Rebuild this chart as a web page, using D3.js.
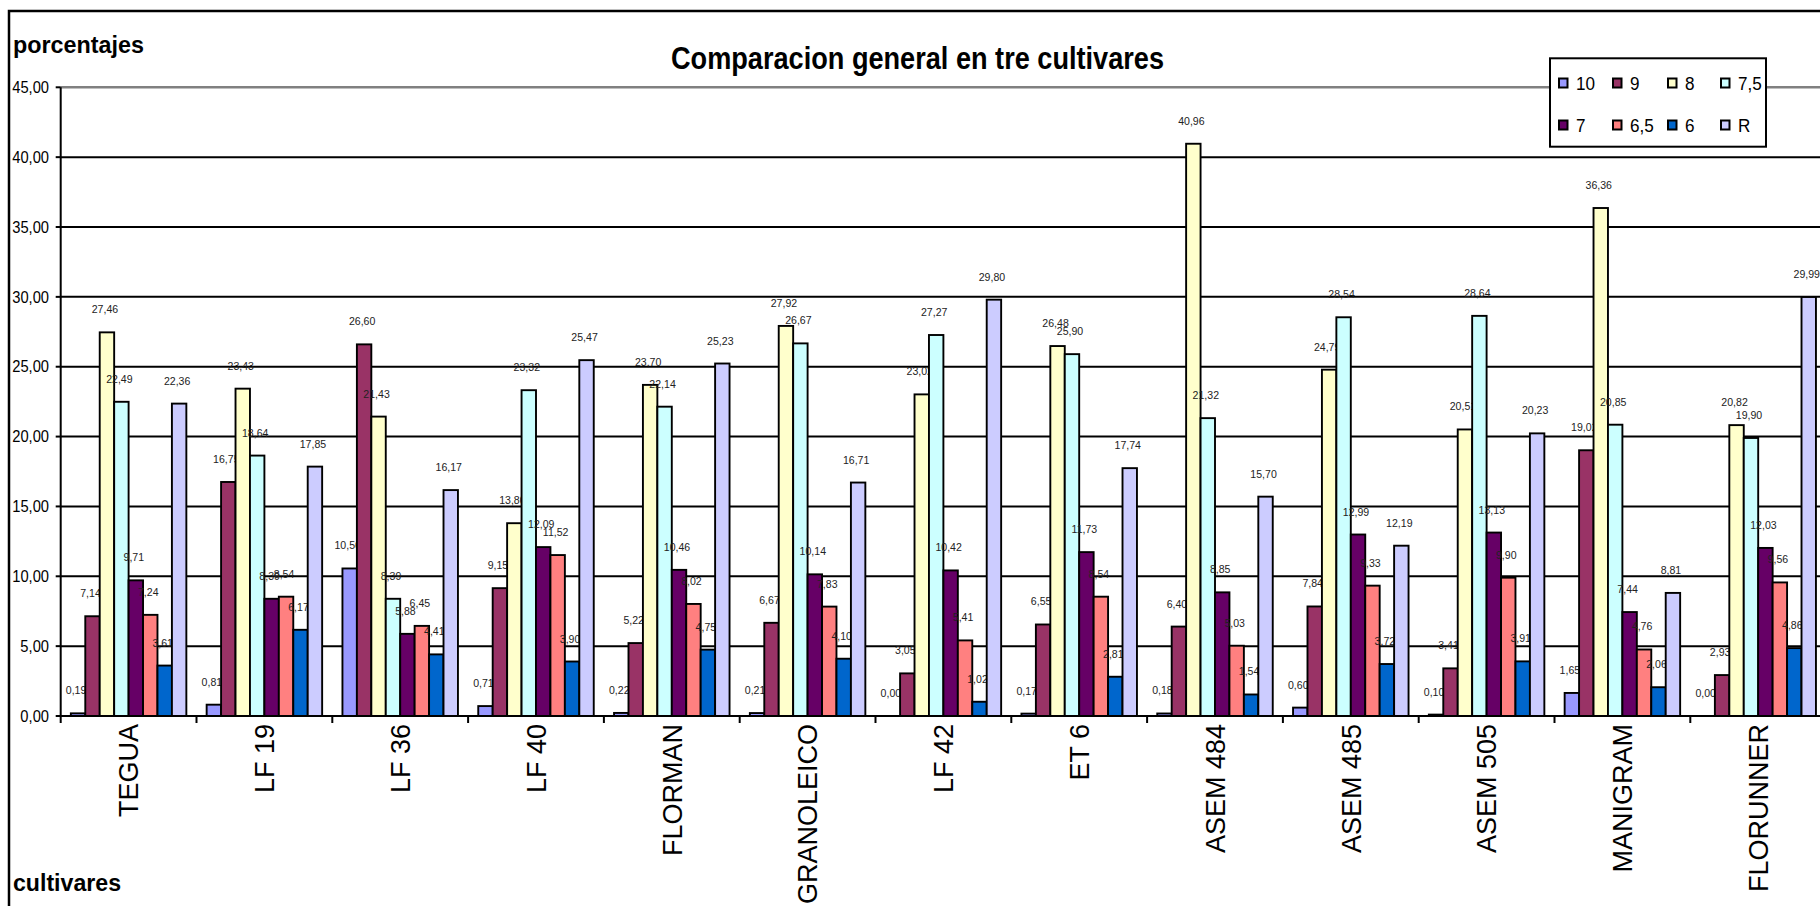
<!DOCTYPE html>
<html>
<head>
<meta charset="utf-8">
<script src="https://cdn.jsdelivr.net/npm/d3@7"></script>
<style>
  html, body { margin: 0; padding: 0; background: #fff; overflow: hidden; }
  svg { display: block; font-family: "Liberation Sans", Arial, sans-serif; }
</style>
</head>
<body>
<svg id="chart" width="1820" height="906"></svg>
<script>
// Cultivars on the x axis
const categories = ["TEGUA", "LF 19", "LF 36", "LF 40", "FLORMAN", "GRANOLEICO", "LF 42",
                    "ET 6", "ASEM 484", "ASEM 485", "ASEM 505", "MANIGRAM", "FLORUNNER"];

// Grade classes (legend order) and their fills
const seriesNames  = ["10", "9", "8", "7,5", "7", "6,5", "6", "R"];
const seriesColors = ["#9999FF", "#993366", "#FFFFCC", "#CCFFFF", "#660066", "#FF8080", "#0066CC", "#CCCCFF"];

// Percentages per grade, one value per cultivar
const s10  = [0.19, 0.81, 10.56, 0.71, 0.22, 0.21, 0.00, 0.17, 0.18, 0.60, 0.10, 1.65, 0.00];
const s9   = [7.14, 16.75, 26.60, 9.15, 5.22, 6.67, 3.05, 6.55, 6.40, 7.84, 3.41, 19.02, 2.93];
const s8   = [27.46, 23.43, 21.43, 13.80, 23.70, 27.92, 23.02, 26.48, 40.96, 24.79, 20.51, 36.36, 20.82];
const s75  = [22.49, 18.64, 8.39, 23.32, 22.14, 26.67, 27.27, 25.90, 21.32, 28.54, 28.64, 20.85, 19.90];
const s7   = [9.71, 8.39, 5.88, 12.09, 10.46, 10.14, 10.42, 11.73, 8.85, 12.99, 13.13, 7.44, 12.03];
const s65  = [7.24, 8.54, 6.45, 11.52, 8.02, 7.83, 5.41, 8.54, 5.03, 9.33, 9.90, 4.76, 9.56];
const s6   = [3.61, 6.17, 4.41, 3.90, 4.75, 4.10, 1.02, 2.81, 1.54, 3.72, 3.91, 2.06, 4.86];
const sR   = [22.36, 17.85, 16.17, 25.47, 25.23, 16.71, 29.80, 17.74, 15.70, 12.19, 20.23, 8.81, 29.99];
const seriesValues = [s10, s9, s8, s75, s7, s65, s6, sR];

// Value axis ticks
const yTicks = [0, 5, 10, 15, 20, 25, 30, 35, 40, 45];

const titleText = "Comparacion general en tre cultivares";
const yTitle = "porcentajes";
const xTitle = "cultivares";

const fmt = v => d3.format(".2f")(v).replace(".", ",");

const svg = d3.select("#chart");

// Plot frame
const plot = { left: 60.7, top: 87.3, bottom: 716, band: 135.8 };
plot.right = plot.left + categories.length * plot.band;

const x0 = d3.scaleBand().domain(categories).range([plot.left, plot.right]).padding(0);
const x1 = d3.scaleBand().domain(seriesNames).range([10.15, plot.band - 10.15]).padding(0);
const y = d3.scaleLinear().domain([0, 45]).range([plot.bottom, plot.top]);

// Outer chart border
svg.append("rect")
  .attr("x", 9).attr("y", 11).attr("width", 1840).attr("height", 1000)
  .attr("fill", "#fff").attr("stroke", "#000").attr("stroke-width", 2.5);

// Horizontal gridlines
svg.append("g").selectAll("line")
  .data(yTicks.filter(t => t > 0 && t < 45))
  .join("line")
  .attr("x1", plot.left).attr("x2", plot.right)
  .attr("y1", d => y(d)).attr("y2", d => y(d))
  .attr("stroke", "#000").attr("stroke-width", 2);

// Top edge of the plot area
svg.append("line")
  .attr("x1", plot.left).attr("x2", plot.right)
  .attr("y1", y(45)).attr("y2", y(45))
  .attr("stroke", "#808080").attr("stroke-width", 2.5);

// Bars and their value labels, series by series so later bars sit over earlier labels
const barsLayer = svg.append("g");
seriesNames.forEach((name, si) => {
  const g = barsLayer.append("g");
  const rows = categories.map((c, ci) => ({ c, v: seriesValues[si][ci] }));
  g.selectAll("rect")
    .data(rows)
    .join("rect")
    .attr("x", d => x0(d.c) + x1(name))
    .attr("width", x1.bandwidth())
    .attr("y", d => y(d.v))
    .attr("height", d => y(0) - y(d.v))
    .attr("fill", seriesColors[si])
    .attr("stroke", "#000").attr("stroke-width", 1.9);
  g.selectAll("text")
    .data(rows)
    .join("text")
    .attr("transform", d => `translate(${x0(d.c) + x1(name) + x1.bandwidth() / 2 - 2},${y(d.v) - 19}) scale(0.92,1)`)
    .attr("text-anchor", "middle")
    .attr("font-size", 11.5)
    .attr("fill", "#222")
    .text(d => fmt(d.v));
});

// Y axis
const yAxis = svg.append("g");
yAxis.append("line")
  .attr("x1", plot.left).attr("x2", plot.left)
  .attr("y1", plot.top).attr("y2", plot.bottom)
  .attr("stroke", "#000").attr("stroke-width", 2);
yAxis.selectAll("line.tick")
  .data(yTicks).join("line").attr("class", "tick")
  .attr("x1", plot.left - 5).attr("x2", plot.left)
  .attr("y1", d => y(d)).attr("y2", d => y(d))
  .attr("stroke", "#000").attr("stroke-width", 2);
yAxis.selectAll("text")
  .data(yTicks).join("text")
  .attr("transform", d => `translate(49,${y(d)}) scale(0.92,1)`)
  .attr("dy", "0.36em")
  .attr("text-anchor", "end")
  .attr("font-size", 16)
  .text(d => fmt(d));

// X axis
const xAxis = svg.append("g");
xAxis.append("line")
  .attr("x1", plot.left).attr("x2", plot.right)
  .attr("y1", plot.bottom).attr("y2", plot.bottom)
  .attr("stroke", "#000").attr("stroke-width", 2);
xAxis.selectAll("line.tick")
  .data(d3.range(categories.length + 1)).join("line").attr("class", "tick")
  .attr("x1", i => plot.left + i * x0.step()).attr("x2", i => plot.left + i * x0.step())
  .attr("y1", plot.bottom).attr("y2", plot.bottom + 7)
  .attr("stroke", "#000").attr("stroke-width", 2);
xAxis.selectAll("text")
  .data(categories).join("text")
  .attr("transform", d => `translate(${x0(d) + x0.bandwidth() / 2},724) rotate(-90)`)
  .attr("dy", "0.36em")
  .attr("text-anchor", "end")
  .attr("font-size", 27)
  .text(d => d);

// Titles
svg.append("text")
  .attr("x", 671).attr("y", 69)
  .attr("font-size", 31).attr("font-weight", "bold")
  .attr("textLength", 493).attr("lengthAdjust", "spacingAndGlyphs")
  .text(titleText);
svg.append("text")
  .attr("x", 13).attr("y", 53)
  .attr("font-size", 23).attr("font-weight", "bold")
  .attr("textLength", 131).attr("lengthAdjust", "spacingAndGlyphs")
  .text(yTitle);
svg.append("text")
  .attr("x", 13).attr("y", 891)
  .attr("font-size", 23).attr("font-weight", "bold")
  .attr("textLength", 108).attr("lengthAdjust", "spacingAndGlyphs")
  .text(xTitle);

// Legend
const legend = svg.append("g");
legend.append("rect")
  .attr("x", 1550).attr("y", 58.3).attr("width", 216).attr("height", 88.4)
  .attr("fill", "#fff").attr("stroke", "#000").attr("stroke-width", 2);
const colX = [1559, 1613, 1668, 1721];
const rowY = [83, 125];
const items = legend.selectAll("g.item")
  .data(seriesNames.map((n, i) => ({ n, i })))
  .join("g").attr("class", "item")
  .attr("transform", d => `translate(${colX[d.i % 4]},${rowY[Math.floor(d.i / 4)]})`);
items.append("rect")
  .attr("x", 0).attr("y", -4.5).attr("width", 8.5).attr("height", 9)
  .attr("fill", d => seriesColors[d.i])
  .attr("stroke", "#000").attr("stroke-width", 2);
items.append("text")
  .attr("transform", "translate(17,6.5) scale(0.9,1)")
  .attr("font-size", 19)
  .text(d => d.n);
</script>
</body>
</html>
